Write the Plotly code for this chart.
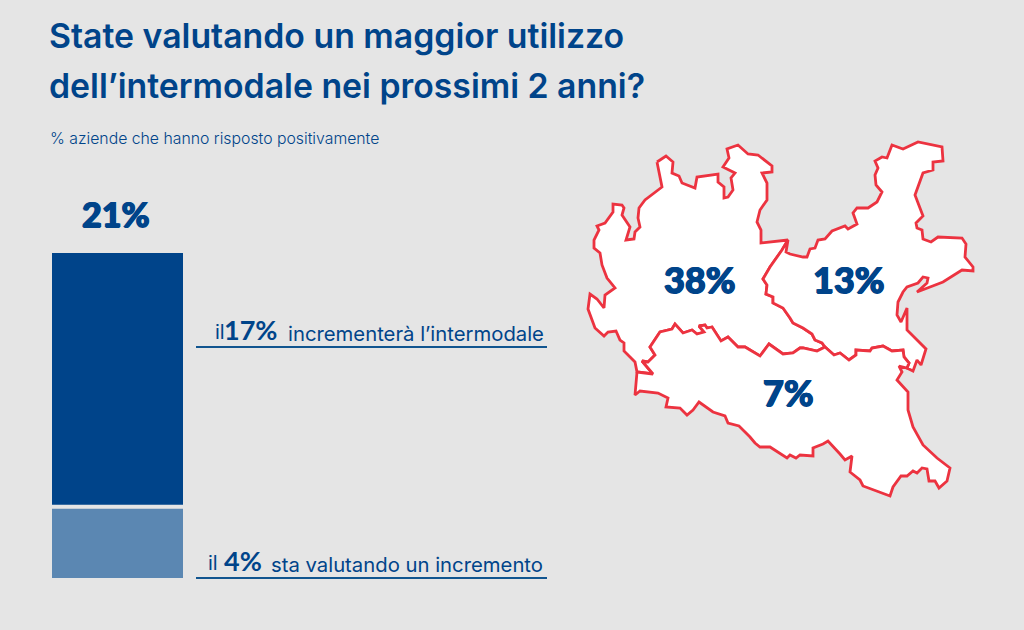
import plotly.graph_objects as go

BG = "#E5E5E5"
BLUE = "#00448A"
LIGHT_BLUE = "#5B87B2"
RED = "#EC3340"
FONT = "Inter"
NUM_FONT = "Lato"
HEAVY = "0.7px 0 0 #00448A, -0.7px 0 0 #00448A, 0 0.5px 0 #00448A"

# stacked bar heights as drawn in the picture (labels show 17% and 4%)
bar_names = ["sta valutando", "incrementerà"]
bar_values = [4.6, 16.4]
bar_colors = [LIGHT_BLUE, BLUE]
total_label = "21%"

title_lines = ["State valutando un maggior utilizzo", "dell’intermodale nei prossimi 2 anni?"]
subtitle = "% aziende che hanno risposto positivamente"

# region outlines, shared borders kept apart
lombardia_nord = [(657, 162), (666, 156), (673, 162), (672, 173), (679, 176), (682, 183), (695, 188), (697, 177),
                  (718, 174), (718, 182), (724, 187), (724, 198), (728, 197), (733, 190), (731, 178), (735, 173),
                  (723, 167), (729, 158), (727, 149), (738, 145), (748, 154), (758, 155), (772, 166), (772, 172),
                  (762, 173), (767, 183), (767, 200), (760, 210), (757, 222), (761, 230), (761, 243)]
lombardia_ovest = [(637, 372), (635, 362), (624, 351), (624, 343), (620, 340), (616, 331), (608, 332), (604, 336),
                   (595, 328), (588, 309), (590, 294), (597, 299), (604, 308), (605, 295), (615, 288), (607, 278),
                   (602, 265), (600, 253), (594, 248), (594, 240), (599, 230), (597, 226), (605, 223), (613, 212),
                   (613, 204), (622, 205), (624, 208), (622, 215), (630, 227), (626, 240), (634, 239), (635, 232),
                   (640, 227), (638, 218), (639, 208), (645, 200), (662, 187)]
lombardia_veneto = [(788, 240), (782, 250), (770, 267), (763, 279), (767, 285), (766, 294), (773, 297), (773, 303),
                    (783, 308), (790, 318), (793, 323), (803, 328), (812, 334), (815, 340), (822, 343), (825, 347)]
lombardia_emilia = [(637, 372), (653, 374), (642, 361), (648, 362), (655, 355), (650, 347), (660, 332), (672, 329),
                    (675, 324), (683, 333), (692, 330), (697, 334), (704, 332), (699, 326), (705, 325), (707, 328),
                    (712, 327), (721, 341), (728, 337), (738, 347), (745, 347), (760, 356), (769, 344), (783, 354),
                    (793, 353), (800, 348), (803, 348), (817, 351), (825, 347)]
emilia_veneto = [(825, 347), (834, 355), (840, 353), (849, 360), (856, 355), (856, 350), (870, 351), (872, 348),
                 (883, 346), (892, 351), (903, 350), (904, 357), (909, 363), (907, 368)]
emilia_sud = [(907, 368), (899, 366), (902, 372), (897, 380), (908, 392), (908, 410), (913, 427), (923, 445),
              (937, 458), (950, 468), (947, 481), (939, 488), (935, 481), (929, 481), (927, 469), (922, 468),
              (917, 473), (913, 471), (907, 476), (901, 476), (893, 487), (890, 496), (863, 486), (860, 480),
              (850, 472), (852, 456), (845, 460), (840, 454), (828, 441), (823, 444), (813, 448), (813, 456),
              (800, 455), (796, 458), (790, 455), (787, 458), (770, 447), (760, 447), (755, 443), (750, 437),
              (739, 426), (728, 423), (725, 416), (713, 412), (699, 402), (693, 410), (687, 415), (680, 408),
              (666, 407), (668, 398), (658, 393), (640, 391), (635, 395), (637, 372)]
veneto_nord = [(788, 240), (786, 252), (790, 254), (803, 257), (807, 257), (810, 249), (815, 248), (818, 240),
               (825, 239), (832, 231), (845, 226), (848, 229), (857, 224), (853, 213), (857, 208), (868, 208),
               (877, 202), (882, 192), (876, 185), (875, 175), (878, 168), (875, 161), (882, 157), (887, 158),
               (892, 145), (903, 149), (918, 142), (942, 147), (943, 161), (933, 162), (933, 170), (923, 173),
               (915, 195), (923, 216), (916, 223), (917, 228), (922, 230), (923, 239), (931, 242), (938, 237),
               (962, 238), (966, 244), (965, 257), (973, 267), (973, 271), (962, 270), (943, 282), (917, 292),
               (927, 283), (928, 278), (923, 277), (918, 283), (907, 287), (903, 292), (898, 302), (897, 315),
               (901, 322), (907, 308), (907, 330), (926, 349), (921, 365), (917, 360), (913, 371), (907, 368)]

lombardia = lombardia_nord + lombardia_veneto + lombardia_emilia[::-1] + lombardia_ovest
veneto = veneto_nord + emilia_veneto[::-1] + lombardia_veneto[::-1]
emilia = lombardia_emilia + emilia_veneto[1:] + emilia_sud[1:]

regions = {"Lombardia": lombardia, "Veneto": veneto, "Emilia-Romagna": emilia}
region_labels = {"Lombardia": "38%", "Veneto": "13%", "Emilia-Romagna": "7%"}
label_pos = {"Lombardia": (700, 279), "Veneto": (849, 279), "Emilia-Romagna": (788, 392)}

fig = go.Figure()

for name, value, color in zip(bar_names, bar_values, bar_colors):
    fig.add_trace(go.Bar(x=["totale"], y=[value], name=name, marker=dict(color=color, line=dict(width=0)),
                         xaxis="x", yaxis="y", hoverinfo="skip"))

for name, outline in regions.items():
    fig.add_trace(go.Scatter(x=[p[0] for p in outline] + [outline[0][0]],
                             y=[p[1] for p in outline] + [outline[0][1]],
                             mode="lines", fill="toself", fillcolor="white", name=name,
                             line=dict(color=RED, width=2.8), xaxis="x2", yaxis="y2", hoverinfo="skip"))


def page_text(x, y, text, size, weight=400, anchor="left", family=FONT, shadow="none"):
    fig.add_annotation(x=x, y=y, xref="x2", yref="y2", text=text, showarrow=False, xanchor=anchor, yanchor="middle",
                       align=anchor, font=dict(family=family, size=size, color=BLUE, weight=weight, shadow=shadow),
                       borderpad=0, borderwidth=0)


page_text(49, 35, title_lines[0], 33.8, 600)
page_text(49, 85, title_lines[1], 33.8, 600)
page_text(50, 138, subtitle, 15.8, 300)
page_text(116, 213, total_label, 34, 900, "center", NUM_FONT, HEAVY)

for name in regions:
    page_text(label_pos[name][0], label_pos[name][1], region_labels[name], 36, 900, "center", NUM_FONT, HEAVY)

page_text(225, 332, "il", 20, 400, "right")
page_text(277, 329, "17%", 27, 700, "right", NUM_FONT)
page_text(544, 333, "incrementerà l’intermodale", 20.3, 400, "right")
page_text(218, 563, "il", 20, 400, "right")
page_text(262, 560, "4%", 27, 700, "right", NUM_FONT)
page_text(543, 564, "sta valutando un incremento", 20.3, 400, "right")

# gap between the two bar blocks
fig.add_shape(type="line", xref="x", yref="y", x0=-0.5, x1=0.5, y0=bar_values[0], y1=bar_values[0],
              line=dict(color=BG, width=4))
for y in [347, 578]:
    fig.add_shape(type="line", xref="x2", yref="y2", x0=196, x1=547, y0=y, y1=y,
                  line=dict(color="#11558F", width=2))

fig.update_layout(
    width=1024, height=630, margin=dict(l=0, r=0, t=0, b=0),
    paper_bgcolor=BG, plot_bgcolor="rgba(0,0,0,0)", showlegend=False, barmode="stack", bargap=0,
    xaxis=dict(domain=[52 / 1024, 183 / 1024], range=[-0.5, 0.5], visible=False),
    yaxis=dict(domain=[(630 - 578) / 630, (630 - 253) / 630], range=[0, 21], visible=False),
    xaxis2=dict(domain=[0, 1], range=[0, 1024], visible=False, anchor="y2"),
    yaxis2=dict(domain=[0, 1], range=[630, 0], visible=False, anchor="x2"),
)

fig.write_html("out.html", config={"displayModeBar": False}, post_script="document.body.style.margin='0';")
